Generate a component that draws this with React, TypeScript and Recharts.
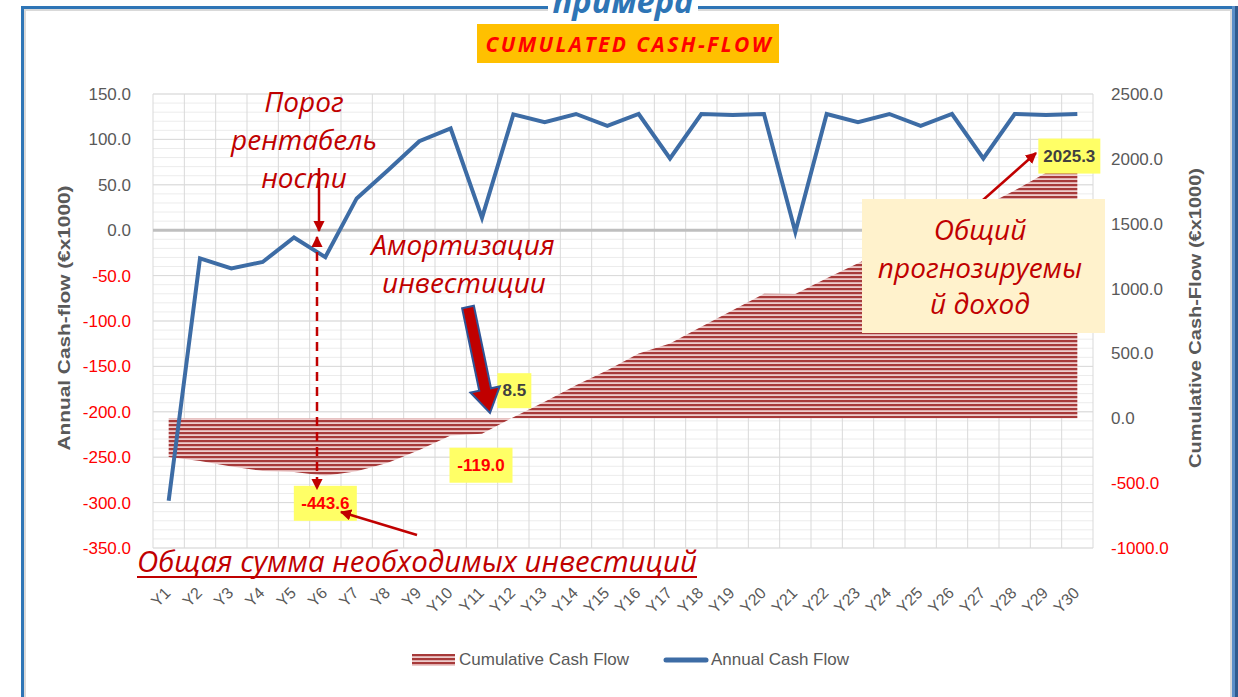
import React from 'react';
import {
  ComposedChart,
  Area,
  Line,
  XAxis,
  YAxis,
  CartesianGrid,
  ReferenceLine,
  Legend,
  LabelList,
} from 'recharts';

const years = [
  'Y1', 'Y2', 'Y3', 'Y4', 'Y5', 'Y6', 'Y7', 'Y8', 'Y9', 'Y10',
  'Y11', 'Y12', 'Y13', 'Y14', 'Y15', 'Y16', 'Y17', 'Y18', 'Y19', 'Y20',
  'Y21', 'Y22', 'Y23', 'Y24', 'Y25', 'Y26', 'Y27', 'Y28', 'Y29', 'Y30',
];

// annual cash flow, left axis (€x1000)
const annualFlow = [
  -298, -31, -42, -35, -8, -29.6, 35, 66, 98, 112,
  13.6, 127.5, 119, 128, 115, 128, 79, 128, 127, 128,
  -2, 128, 119, 128, 115, 128, 79, 128, 127, 128,
];

// cumulative cash flow, right axis (€x1000)
const cumulativeFlow = [
  -298, -329, -371, -406, -414, -443.6, -408.6, -342.6, -244.6, -132.6,
  -119.0, 8.5, 127.5, 255.5, 370.5, 498.5, 577.5, 705.5, 832.5, 960.5,
  958.5, 1080, 1195, 1320, 1432, 1557, 1633, 1757, 1893, 2025.3,
];

const leftTicks = [-350, -300, -250, -200, -150, -100, -50, 0, 50, 100, 150];
const rightTicks = [-1000, -500, 0, 500, 1000, 1500, 2000, 2500];
const leftMinorTicks = Array.from({ length: 51 }, (_, i) => -350 + i * 10);

// years that carry a yellow value callout
const calloutYears = ['Y6', 'Y11', 'Y12', 'Y30'];

const data = years.map((year, i) => ({
  year,
  annual: annualFlow[i],
  cumulative: cumulativeFlow[i],
}));

const RED = '#c00000';
const GRAY = '#595959';
const BLUE = '#3d6ca5';
const FRAME = '#2e75b6';
const NOTE_FONT = '"Open Sans", "Noto Sans", sans-serif';

const calloutPos: Record<string, { dx: number; dy: number; w: number }> = {
  Y6: { dx: 0, dy: 27, w: 63 },
  Y11: { dx: -1, dy: 31, w: 63 },
  Y12: { dx: 1, dy: -27, w: 34 },
  Y30: { dx: -8, dy: 0, w: 62 },
};

const renderCallout = (props: any) => {
  const { x, y, value, index } = props;
  const yr = years[index];
  if (!calloutYears.includes(yr)) return null;
  const p = calloutPos[yr];
  const cx = x + p.dx;
  const cy = y + p.dy;
  return (
    <g key={`callout-${yr}`}>
      <rect x={cx - p.w / 2} y={cy - 17} width={p.w} height={35} fill="#ffff66" />
      <text
        x={cx}
        y={cy}
        dy="0.36em"
        textAnchor="middle"
        fontSize={17}
        fontWeight="bold"
        fill={value < 0 ? '#ff0000' : '#404040'}
      >
        {Number(value).toFixed(1)}
      </text>
    </g>
  );
};

const renderYearTick = (props: any) => {
  const { x, y, payload } = props;
  return (
    <text
      transform={`translate(${x + 3},${y + 46}) rotate(-45)`}
      textAnchor="end"
      fontSize={16}
      fill={GRAY}
    >
      {payload.value}
    </text>
  );
};

const renderLeftTick = (props: any) => {
  const { x, y, payload } = props;
  const v = payload.value;
  if (v % 50 !== 0) return <g />;
  return (
    <text x={x} y={y} dy="0.35em" textAnchor="end" fontSize={17} fill={v < 0 ? '#ff0000' : GRAY}>
      {v.toFixed(1)}
    </text>
  );
};

const renderRightTick = (props: any) => {
  const { x, y, payload } = props;
  const v = payload.value;
  return (
    <text x={x} y={y} dy="0.35em" textAnchor="start" fontSize={17} fill={v < 0 ? '#ff0000' : GRAY}>
      {v.toFixed(1)}
    </text>
  );
};

const renderLegend = () => (
  <div style={{ display: 'flex', alignItems: 'center', height: 24, fontSize: 17, color: GRAY }}>
    <div style={{ width: 251, display: 'flex', alignItems: 'center' }}>
      <svg width={43} height={12}>
        <defs>
          <pattern id="legendStripes" width={8} height={4} patternUnits="userSpaceOnUse">
            <rect width={8} height={4} fill="#edcccc" />
            <rect width={8} height={2.2} fill="#a73a3a" />
          </pattern>
        </defs>
        <rect width={43} height={12} fill="url(#legendStripes)" />
      </svg>
      <span style={{ marginLeft: 4 }}>Cumulative Cash Flow</span>
    </div>
    <div style={{ display: 'flex', alignItems: 'center' }}>
      <svg width={46} height={12}>
        <line x1={3} y1={6} x2={43} y2={6} stroke={BLUE} strokeWidth={5} strokeLinecap="round" />
      </svg>
      <span style={{ marginLeft: 2 }}>Annual Cash Flow</span>
    </div>
  </div>
);

// thick block arrow from tail to tip
function blockArrow(tx: number, ty: number, px: number, py: number) {
  const dx = px - tx;
  const dy = py - ty;
  const len = Math.hypot(dx, dy);
  const ux = dx / len;
  const uy = dy / len;
  const nx = -uy;
  const ny = ux;
  const hx = px - ux * 24;
  const hy = py - uy * 24;
  const pts = [
    [tx + nx * 6, ty + ny * 6],
    [hx + nx * 6, hy + ny * 6],
    [hx + nx * 15, hy + ny * 15],
    [px, py],
    [hx - nx * 15, hy - ny * 15],
    [hx - nx * 6, hy - ny * 6],
    [tx - nx * 6, ty - ny * 6],
  ];
  return pts.map((p) => p.join(',')).join(' ');
}

function Notes() {
  const note = { fontFamily: NOTE_FONT, fontStyle: 'italic', fontSize: 28, fill: RED, textAnchor: 'middle' as const };
  return (
    <svg
      width={1238}
      height={697}
      style={{ position: 'absolute', left: 0, top: 0, pointerEvents: 'none' }}
    >
      <defs>
        <marker id="redHead" viewBox="0 0 10 10" refX={9} refY={5} markerWidth={4.5} markerHeight={4.5} orient="auto-start-reverse">
          <path d="M0,0 L10,5 L0,10 z" fill={RED} />
        </marker>
      </defs>

      {/* frame */}
      <rect x={24} y={9} width={1207} height={2} fill="#d9d9d9" />
      <rect x={24} y={9} width={2} height={700} fill="#d9d9d9" />
      <rect x={21} y={6} width={1213} height={3} fill={FRAME} />
      <rect x={21} y={6} width={3} height={700} fill={FRAME} />
      <rect x={1230} y={9} width={2} height={700} fill="#d9d9d9" />
      <rect x={1232} y={6} width={3} height={700} fill="#5b8fc9" />
      <rect x={1235} y={6} width={3} height={700} fill="#2f5b8e" />

      {/* titles (the first one is cut by the top edge, as in the source) */}
      <rect x={548} y={0} width={150} height={20} fill="#fff" />
      <text x={623} y={13} textAnchor="middle" fontFamily={NOTE_FONT} fontStyle="italic" fontWeight="bold" fontSize={32} fill={FRAME} textLength={141} lengthAdjust="spacingAndGlyphs">
        примера
      </text>
      <rect x={477} y={24} width={302} height={39} fill="#ffc000" />
      <text x={628} y={52} textAnchor="middle" fontFamily={NOTE_FONT} fontStyle="italic" fontWeight="bold" fontSize={21} fill="#ff0000" textLength={285} lengthAdjust="spacing">
        CUMULATED CASH-FLOW
      </text>

      {/* axis titles */}
      <text transform="translate(70,318) rotate(-90)" textAnchor="middle" fontSize={16} fontWeight="bold" fill={GRAY} textLength={265} lengthAdjust="spacingAndGlyphs">
        Annual Cash-flow (€x1000)
      </text>
      <text transform="translate(1201,318) rotate(-90)" textAnchor="middle" fontSize={16} fontWeight="bold" fill={GRAY} textLength={300} lengthAdjust="spacingAndGlyphs">
        Cumulative Cash-Flow (€x1000)
      </text>

      {/* break-even note */}
      <text x={304} y={112} {...note}>Порог</text>
      <text x={304} y={150} {...note}>рентабель</text>
      <text x={304} y={188} {...note}>ности</text>
      <line x1={319} y1={168} x2={319} y2={231} stroke={RED} strokeWidth={2.5} markerEnd="url(#redHead)" />
      <line x1={317} y1={237} x2={317} y2={489} stroke={RED} strokeWidth={2.5} strokeDasharray="9 6" markerStart="url(#redHead)" markerEnd="url(#redHead)" />

      {/* payback note */}
      <text x={463} y={255} {...note}>Амортизация</text>
      <text x={464} y={293} {...note}>инвестиции</text>
      <polygon points={blockArrow(468, 307, 490, 413)} fill={RED} stroke="#2f5597" strokeWidth={2} />

      {/* total investment note */}
      <text x={417} y={572} {...note} fontSize={30} textLength={560} lengthAdjust="spacingAndGlyphs">
        Общая сумма необходимых инвестиций
      </text>
      <line x1={137} y1={577} x2={697} y2={577} stroke={RED} strokeWidth={2} />
      <line x1={417} y1={535} x2={341} y2={512} stroke={RED} strokeWidth={2.5} markerEnd="url(#redHead)" />

      {/* total income note */}
      <line x1={983} y1={200} x2={1036} y2={153} stroke={RED} strokeWidth={2.5} markerEnd="url(#redHead)" />
      <rect x={862} y={199} width={243} height={134} fill="#fff2cc" />
      <text x={980} y={240} {...note}>Общий</text>
      <text x={980} y={278} {...note}>прогнозируемы</text>
      <text x={980} y={314} {...note}>й доход</text>
    </svg>
  );
}

export default function App() {
  return (
    <div
      style={{
        position: 'absolute',
        left: 0,
        top: 0,
        width: 1238,
        height: 697,
        background: '#fff',
        overflow: 'hidden',
        fontFamily: '"Liberation Sans", Arial, sans-serif',
      }}
    >
      <ComposedChart width={1238} height={697} data={data} margin={{ top: 94, right: 65, bottom: 25, left: 93 }}>
        <defs>
          <pattern id="cumStripes" width={8} height={4} patternUnits="userSpaceOnUse">
            <rect width={8} height={4} fill="#edcccc" />
            <rect width={8} height={2.2} fill="#a73a3a" />
          </pattern>
        </defs>
        <CartesianGrid yAxisId="left" stroke="#ececec" vertical={false} />
        <CartesianGrid
          yAxisId="major"
          stroke="#d9d9d9"
          verticalCoordinatesGenerator={({ offset }: any) =>
            Array.from({ length: years.length + 1 }, (_, i) => offset.left + (i * offset.width) / years.length)
          }
        />
        <XAxis
          dataKey="year"
          scale="band"
          interval={0}
          tickLine={false}
          axisLine={false}
          tickSize={0}
          tickMargin={0}
          height={100}
          tick={renderYearTick}
        />
        <YAxis
          yAxisId="left"
          domain={[-350, 150]}
          ticks={leftMinorTicks}
          interval={0}
          width={60}
          tickLine={false}
          axisLine={false}
          tickSize={0}
          tickMargin={22}
          tick={renderLeftTick}
          allowDataOverflow
        />
        <YAxis yAxisId="major" hide domain={[-350, 150]} ticks={leftTicks} interval={0} allowDataOverflow />
        <YAxis
          yAxisId="right"
          orientation="right"
          domain={[-1000, 2500]}
          ticks={rightTicks}
          interval={0}
          width={80}
          tickLine={false}
          axisLine={false}
          tickSize={0}
          tickMargin={18}
          tick={renderRightTick}
          allowDataOverflow
        />
        <ReferenceLine yAxisId="left" y={0} stroke="#bfbfbf" strokeWidth={3} />
        <Area
          yAxisId="right"
          dataKey="cumulative"
          name="Cumulative Cash Flow"
          type="linear"
          stroke="none"
          fill="url(#cumStripes)"
          fillOpacity={1}
          isAnimationActive={false}
        >
          <LabelList dataKey="cumulative" content={renderCallout} />
        </Area>
        <Line
          yAxisId="left"
          dataKey="annual"
          name="Annual Cash Flow"
          type="linear"
          stroke={BLUE}
          strokeWidth={4}
          dot={false}
          activeDot={false}
          isAnimationActive={false}
        />
        <Legend verticalAlign="bottom" content={renderLegend} wrapperStyle={{ left: 412, width: 460 }} />
      </ComposedChart>
      <Notes />
    </div>
  );
}
